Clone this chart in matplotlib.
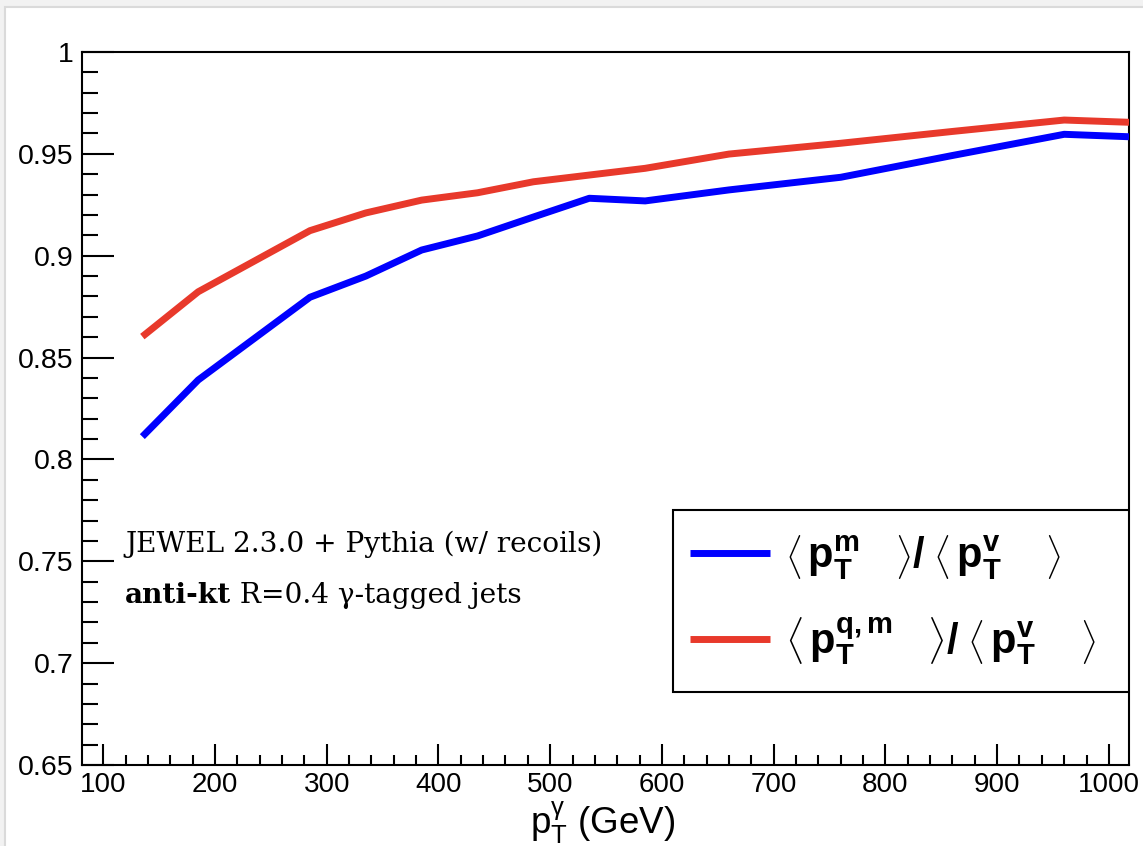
import matplotlib
matplotlib.use('Agg')
import matplotlib.pyplot as plt
from matplotlib.patches import Rectangle
from matplotlib.lines import Line2D
from matplotlib.ticker import MultipleLocator

# ---------------- data ----------------
pt_gamma = [135, 185, 235, 285, 335, 385, 435, 485, 535, 585, 660, 760, 860, 960, 1018]
ratio_m = [0.8112, 0.8390, 0.8593, 0.8796, 0.8900, 0.9028, 0.9097, 0.9190, 0.9282,
           0.9269, 0.9323, 0.9385, 0.9492, 0.9596, 0.9584]
ratio_qm = [0.8603, 0.8823, 0.8973, 0.9123, 0.9210, 0.9273, 0.9309, 0.9363, 0.9396,
            0.9429, 0.9499, 0.9552, 0.9610, 0.9666, 0.9655]
x_ticks = [100, 200, 300, 400, 500, 600, 700, 800, 900, 1000]
x_tick_labels = ['100', '200', '300', '400', '500', '600', '700', '800', '900', '1000']
y_ticks = [0.65, 0.70, 0.75, 0.80, 0.85, 0.90, 0.95, 1.00]
y_tick_labels = ['0.65', '0.7', '0.75', '0.8', '0.85', '0.9', '0.95', '1']
series_labels = [
    r'$\left\langle\,\mathbf{p}_{\mathbf{T}}^{\mathbf{m}}\quad\right\rangle\mathbf{/}\;\left\langle\,\mathbf{p}_{\mathbf{T}}^{\mathbf{v}}\quad\;\right\rangle$',
    r'$\left\langle\,\mathbf{p}_{\mathbf{T}}^{\mathbf{q,m}}\quad\right\rangle\mathbf{/}\;\left\langle\,\mathbf{p}_{\mathbf{T}}^{\mathbf{v}}\quad\;\right\rangle$',
]
series_colors = ['#0000ff', '#e8392b']
note_line1 = 'JEWEL 2.3.0 + Pythia (w/ recoils)'
note_bold = 'anti-kt'
note_rest = ' R=0.4 \u03b3-tagged jets'
x_label = r'$\mathregular{p_{T}^{\gamma}}$ (GeV)'

# ---------------- style ----------------
plt.rcParams['font.family'] = ['Liberation Sans', 'DejaVu Sans']
plt.rcParams['mathtext.fontset'] = 'custom'
plt.rcParams['mathtext.rm'] = 'Liberation Sans'
plt.rcParams['mathtext.bf'] = 'Liberation Sans:bold'
plt.rcParams['mathtext.it'] = 'Liberation Sans:italic'

W, H = 1143, 846
fig = plt.figure(figsize=(W / 100, H / 100), dpi=100)
fig.patch.set_facecolor('#f2f2f2')
fig.add_artist(Rectangle((5 / W, -0.01), 1.0, 1 - 7 / H + 0.01, transform=fig.transFigure,
                         facecolor='white', edgecolor='#dadada', lw=1.5, zorder=0))

L, R, T, B = 82, 1129, 52, 765
ax = fig.add_axes([L / W, 1 - B / H, (R - L) / W, (B - T) / H])
ax.set_facecolor('white')

ax.plot(pt_gamma, ratio_m, color=series_colors[0], lw=5, solid_capstyle='butt', zorder=3)
ax.plot(pt_gamma, ratio_qm, color=series_colors[1], lw=5, solid_capstyle='butt', zorder=3)

ax.set_xlim(81, 1018)
ax.set_ylim(0.65, 1.0)
ax.set_xticks(x_ticks, x_tick_labels)
ax.set_yticks(y_ticks, y_tick_labels)
ax.xaxis.set_minor_locator(MultipleLocator(20))
ax.yaxis.set_minor_locator(MultipleLocator(0.01))

for s in ax.spines.values():
    s.set_linewidth(1.5)
    s.set_color('black')

ax.tick_params(axis='both', which='both', direction='in', top=False, right=False, width=1.5)
ax.tick_params(axis='y', which='major', length=23, labelsize=20.5, pad=6)
ax.tick_params(axis='y', which='minor', length=11.5)
ax.tick_params(axis='x', which='major', length=15, labelsize=20, pad=5)
ax.tick_params(axis='x', which='minor', length=7.5)

ax.set_xlabel(x_label, fontsize=26.5)
ax.xaxis.label.set_verticalalignment('baseline')
ax.xaxis.set_label_coords(0.497, (B - 834) / (B - T))

# annotation text
ty1 = (B - 552) / (B - T)
ty2 = (B - 609) / (B - T)
tx = (125 - L) / (R - L)
fs_note = 20.2
ax.text(tx, ty1, note_line1, transform=ax.transAxes, family='DejaVu Serif', fontsize=fs_note,
        va='baseline', ha='left')
t_b = ax.text(tx, ty2, note_bold, transform=ax.transAxes, family='DejaVu Serif', fontsize=fs_note,
              fontweight='bold', va='bottom', ha='left')
ax.annotate(note_rest, xy=(1, 0), xycoords=t_b, family='DejaVu Serif', fontsize=fs_note,
            va='bottom', ha='left')

# legend
bx0 = (673 - L) / (R - L)
by0 = (B - 692) / (B - T)
by1 = (B - 510) / (B - T)
ax.add_patch(Rectangle((bx0, by0), 1 - bx0, by1 - by0, transform=ax.transAxes,
                       facecolor='white', edgecolor='black', lw=1.5, zorder=4))
handles = [Line2D([], [], color=c, lw=5, solid_capstyle='butt') for c in series_colors]
leg = ax.legend(handles, series_labels, loc='center left',
                bbox_to_anchor=((690 - L) / (R - L), (B - 600) / (B - T)),
                frameon=False, fontsize=30, borderpad=0, borderaxespad=0,
                handlelength=1.92, handletextpad=0.36, labelspacing=0.8)
leg.set_zorder(5)

fig.savefig('out.png', dpi=100, facecolor=fig.get_facecolor())
